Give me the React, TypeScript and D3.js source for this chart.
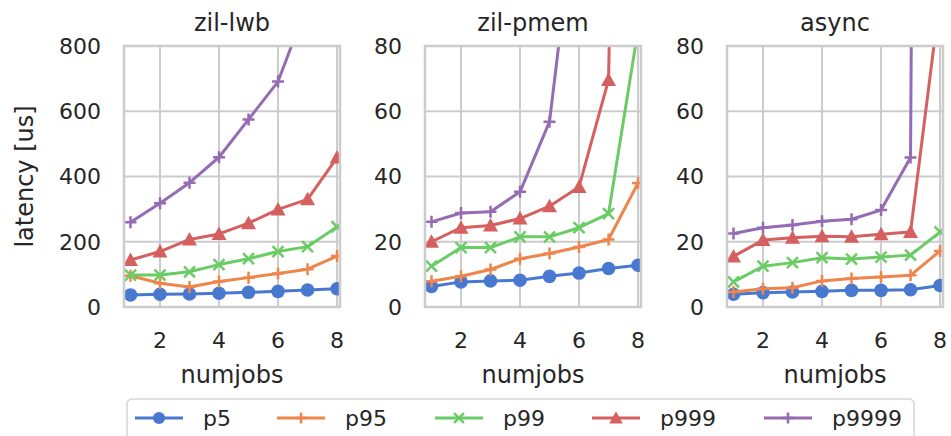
import React from 'react';
import * as d3 from 'd3';

// numjobs on the x axis
const jobs = [1, 2, 3, 4, 5, 6, 7, 8];

const panelTitles = ['zil-lwb', 'zil-pmem', 'async'];
const panelYMax = [800, 80, 80];
const panelYTicks = [[0, 200, 400, 600, 800], [0, 20, 40, 60, 80], [0, 20, 40, 60, 80]];
const xTicks = [2, 4, 6, 8];

const seriesNames = ['p5', 'p95', 'p99', 'p999', 'p9999'];
const seriesColors = ['#4878d0', '#ee854a', '#6acc64', '#d65f5f', '#956cb4'];
const seriesMarkers = ['circle', 'plus', 'x', 'triangle', 'plus'];

// latency [us], zil-lwb
const lwbP5 = [37, 39, 40, 42, 45, 48, 52, 56];
const lwbP95 = [96, 73, 61, 78, 90, 103, 116, 156];
const lwbP99 = [98, 98, 108, 130, 148, 170, 185, 246];
const lwbP999 = [144, 170, 207, 224, 257, 299, 330, 458];
const lwbP9999 = [260, 318, 381, 459, 575, 691, 930, 1250];

// zil-pmem
const pmemP5 = [6.3, 7.7, 8.0, 8.2, 9.4, 10.4, 11.8, 12.8];
const pmemP95 = [7.9, 9.4, 11.5, 14.8, 16.4, 18.4, 20.7, 38];
const pmemP99 = [12.5, 18.2, 18.2, 21.5, 21.5, 24.3, 28.6, 85];
const pmemP999 = [20, 24.3, 25, 27.1, 30.9, 36.8, 69.6, 530];
const pmemP9999 = [26.1, 28.8, 29.2, 35.3, 56.8, 132, 400, 900];

// async
const asyncP5 = [3.9, 4.4, 4.6, 4.8, 5.1, 5.1, 5.3, 6.6];
const asyncP95 = [4.6, 5.6, 5.9, 8.0, 8.7, 9.2, 9.7, 17.2];
const asyncP99 = [7.7, 12.5, 13.6, 15.1, 14.7, 15.3, 15.9, 23.0];
const asyncP999 = [15.5, 20.5, 21.2, 21.7, 21.5, 22.3, 23.0, 95];
const asyncP9999 = [22.5, 24.3, 25.1, 26.3, 26.9, 29.7, 45.8, 1500];

const panelData = [
  [lwbP5, lwbP95, lwbP99, lwbP999, lwbP9999],
  [pmemP5, pmemP95, pmemP99, pmemP999, pmemP9999],
  [asyncP5, asyncP95, asyncP99, asyncP999, asyncP9999],
];

const W = 951;
const H = 436;
const panelLeft = [124, 425, 727];
const panelW = 216;
const top = 46;
const bottom = 307;
const textColor = '#262626';
const gridColor = '#cccccc';
const font = 'DejaVu Sans, sans-serif';
const tickSize = 22;
const labelSize = 24;

const Marker = ({ kind, color, x, y, s = 1 }: any) => {
  if (kind === 'circle') return <circle cx={x} cy={y} r={6.8 * s} fill={color} />;
  if (kind === 'triangle') {
    const r = 7.5 * s;
    return <path d={`M${x},${y - r}L${x + r},${y + r * 0.8}L${x - r},${y + r * 0.8}Z`} fill={color} />;
  }
  if (kind === 'plus') {
    const r = 6 * s;
    return <path d={`M${x - r},${y}H${x + r}M${x},${y - r}V${y + r}`} stroke={color} strokeWidth={2.5} fill="none" />;
  }
  const r = 5.5 * s;
  return <path d={`M${x - r},${y - r}L${x + r},${y + r}M${x - r},${y + r}L${x + r},${y - r}`} stroke={color} strokeWidth={2.5} fill="none" />;
};

const Panel = ({ idx }: { idx: number }) => {
  const x0 = panelLeft[idx];
  const x = d3.scaleLinear().domain([0.78, 8.1]).range([x0, x0 + panelW]);
  const y = d3.scaleLinear().domain([0, panelYMax[idx]]).range([bottom, top]);
  const line = d3.line<number>().x((_, i) => x(jobs[i])).y((d) => y(d));
  const clipId = `clip-${idx}`;
  return (
    <g>
      <defs>
        <clipPath id={clipId}>
          <rect x={x0} y={top} width={panelW} height={bottom - top} />
        </clipPath>
      </defs>
      {xTicks.map((t) => (
        <line key={'gx' + t} x1={x(t)} x2={x(t)} y1={top} y2={bottom} stroke={gridColor} strokeWidth={2} />
      ))}
      {panelYTicks[idx].map((t) => (
        <line key={'gy' + t} x1={x0} x2={x0 + panelW} y1={y(t)} y2={y(t)} stroke={gridColor} strokeWidth={2} />
      ))}
      <g clipPath={`url(#${clipId})`}>
        {panelData[idx].map((vals, si) => (
          <g key={si}>
            <path d={line(vals) || ''} fill="none" stroke={seriesColors[si]} strokeWidth={3} strokeLinejoin="round" />
            {vals.map((v, i) => (
              <Marker key={i} kind={seriesMarkers[si]} color={seriesColors[si]} x={x(jobs[i])} y={y(v)} />
            ))}
          </g>
        ))}
      </g>
      <rect x={x0} y={top} width={panelW} height={bottom - top} fill="none" stroke={gridColor} strokeWidth={2.5} />
      {panelYTicks[idx].map((t) => (
        <text key={'ty' + t} x={x0 - 23} y={y(t)} dy="0.36em" textAnchor="end" fontSize={tickSize} fill={textColor} fontFamily={font}>
          {t}
        </text>
      ))}
      {xTicks.map((t) => (
        <text key={'tx' + t} x={x(t)} y={348} textAnchor="middle" fontSize={tickSize} fill={textColor} fontFamily={font}>
          {t}
        </text>
      ))}
      <text x={x0 + panelW / 2} y={31} textAnchor="middle" fontSize={labelSize} fill={textColor} fontFamily={font}>
        {panelTitles[idx]}
      </text>
      <text x={x0 + panelW / 2} y={383} textAnchor="middle" fontSize={labelSize} fill={textColor} fontFamily={font}>
        numjobs
      </text>
    </g>
  );
};

const legendX = [135, 277, 435, 592, 764];

export default function App() {
  return (
    <svg width={W} height={H} style={{ position: 'absolute', left: 0, top: 0, background: '#fff' }}>
      <rect x={0} y={0} width={W} height={H} fill="#fff" />
      {[0, 1, 2].map((i) => (
        <Panel key={i} idx={i} />
      ))}
      <text transform={`translate(33,${(top + bottom) / 2}) rotate(-90)`} textAnchor="middle" fontSize={labelSize} fill={textColor} fontFamily={font}>
        latency [us]
      </text>
      <rect x={127} y={399} width={787} height={60} rx={5} fill="#fff" stroke="#d6d6d6" strokeWidth={1.5} />
      {seriesNames.map((n, i) => (
        <g key={n}>
          <line x1={legendX[i]} x2={legendX[i] + 48} y1={418} y2={418} stroke={seriesColors[i]} strokeWidth={3} />
          <Marker kind={seriesMarkers[i]} color={seriesColors[i]} x={legendX[i] + 24} y={418} s={0.9} />
          <text x={legendX[i] + 68} y={426} fontSize={tickSize} fill={textColor} fontFamily={font}>
            {n}
          </text>
        </g>
      ))}
    </svg>
  );
}
